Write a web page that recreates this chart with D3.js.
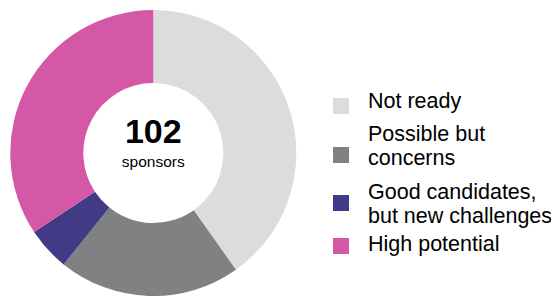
<!DOCTYPE html>
<html><head><meta charset="utf-8">
<script src="https://cdn.jsdelivr.net/npm/d3@7"></script>
<style>html,body{margin:0;padding:0;background:#fff;}svg{display:block;}</style>
</head><body>
<svg id="chart" width="551" height="296"></svg>
<script>
const categories = ["Not ready", "Possible but concerns", "Good candidates, but new challenges", "High potential"];
const legendLines = [["Not ready"], ["Possible but", "concerns"], ["Good candidates,", "but new challenges"], ["High potential"]];
const values = [41, 21, 5, 35];
const colors = ["#dcdcdd", "#808183", "#433a86", "#d458a6"];
const totalLabel = "102";
const subLabel = "sponsors";

const svg = d3.select("#chart");
const cx = 153.3, cy = 153, rOuter = 143, rInner = 70;
const pie = d3.pie().sort(null).value(d => d)(values);
const arc = d3.arc().innerRadius(rInner).outerRadius(rOuter);
const g = svg.append("g").attr("transform", `translate(${cx},${cy})`);
g.selectAll("path").data(pie).join("path")
  .attr("d", arc).attr("fill", (d, i) => colors[i]);

g.append("text").attr("text-anchor", "middle").attr("y", -10)
  .attr("font-family", "Liberation Sans, Arial, sans-serif").attr("font-weight", "bold")
  .attr("font-size", 34).attr("fill", "#000").text(totalLabel);
g.append("text").attr("text-anchor", "middle").attr("y", 14)
  .attr("font-family", "Liberation Sans, Arial, sans-serif")
  .attr("font-size", 15.5).attr("fill", "#000").text(subLabel);

const legend = svg.append("g");
const itemY = [108, 140.5, 198.5, 250.5];   // first-line baselines
const squareY = [98, 147, 195, 238];
const lineH = 24;
categories.forEach((c, i) => {
  const lines = legendLines[i];
  legend.append("rect").attr("x", 333).attr("y", squareY[i])
    .attr("width", 16).attr("height", 16).attr("fill", colors[i]);
  const t = legend.append("text").attr("font-family", "Liberation Sans, Arial, sans-serif")
    .attr("font-size", 21.5).attr("fill", "#000");
  lines.forEach((l, j) => {
    t.append("tspan").attr("x", 368).attr("y", itemY[i] + j * lineH).text(l);
  });
});
</script>
</body></html>
